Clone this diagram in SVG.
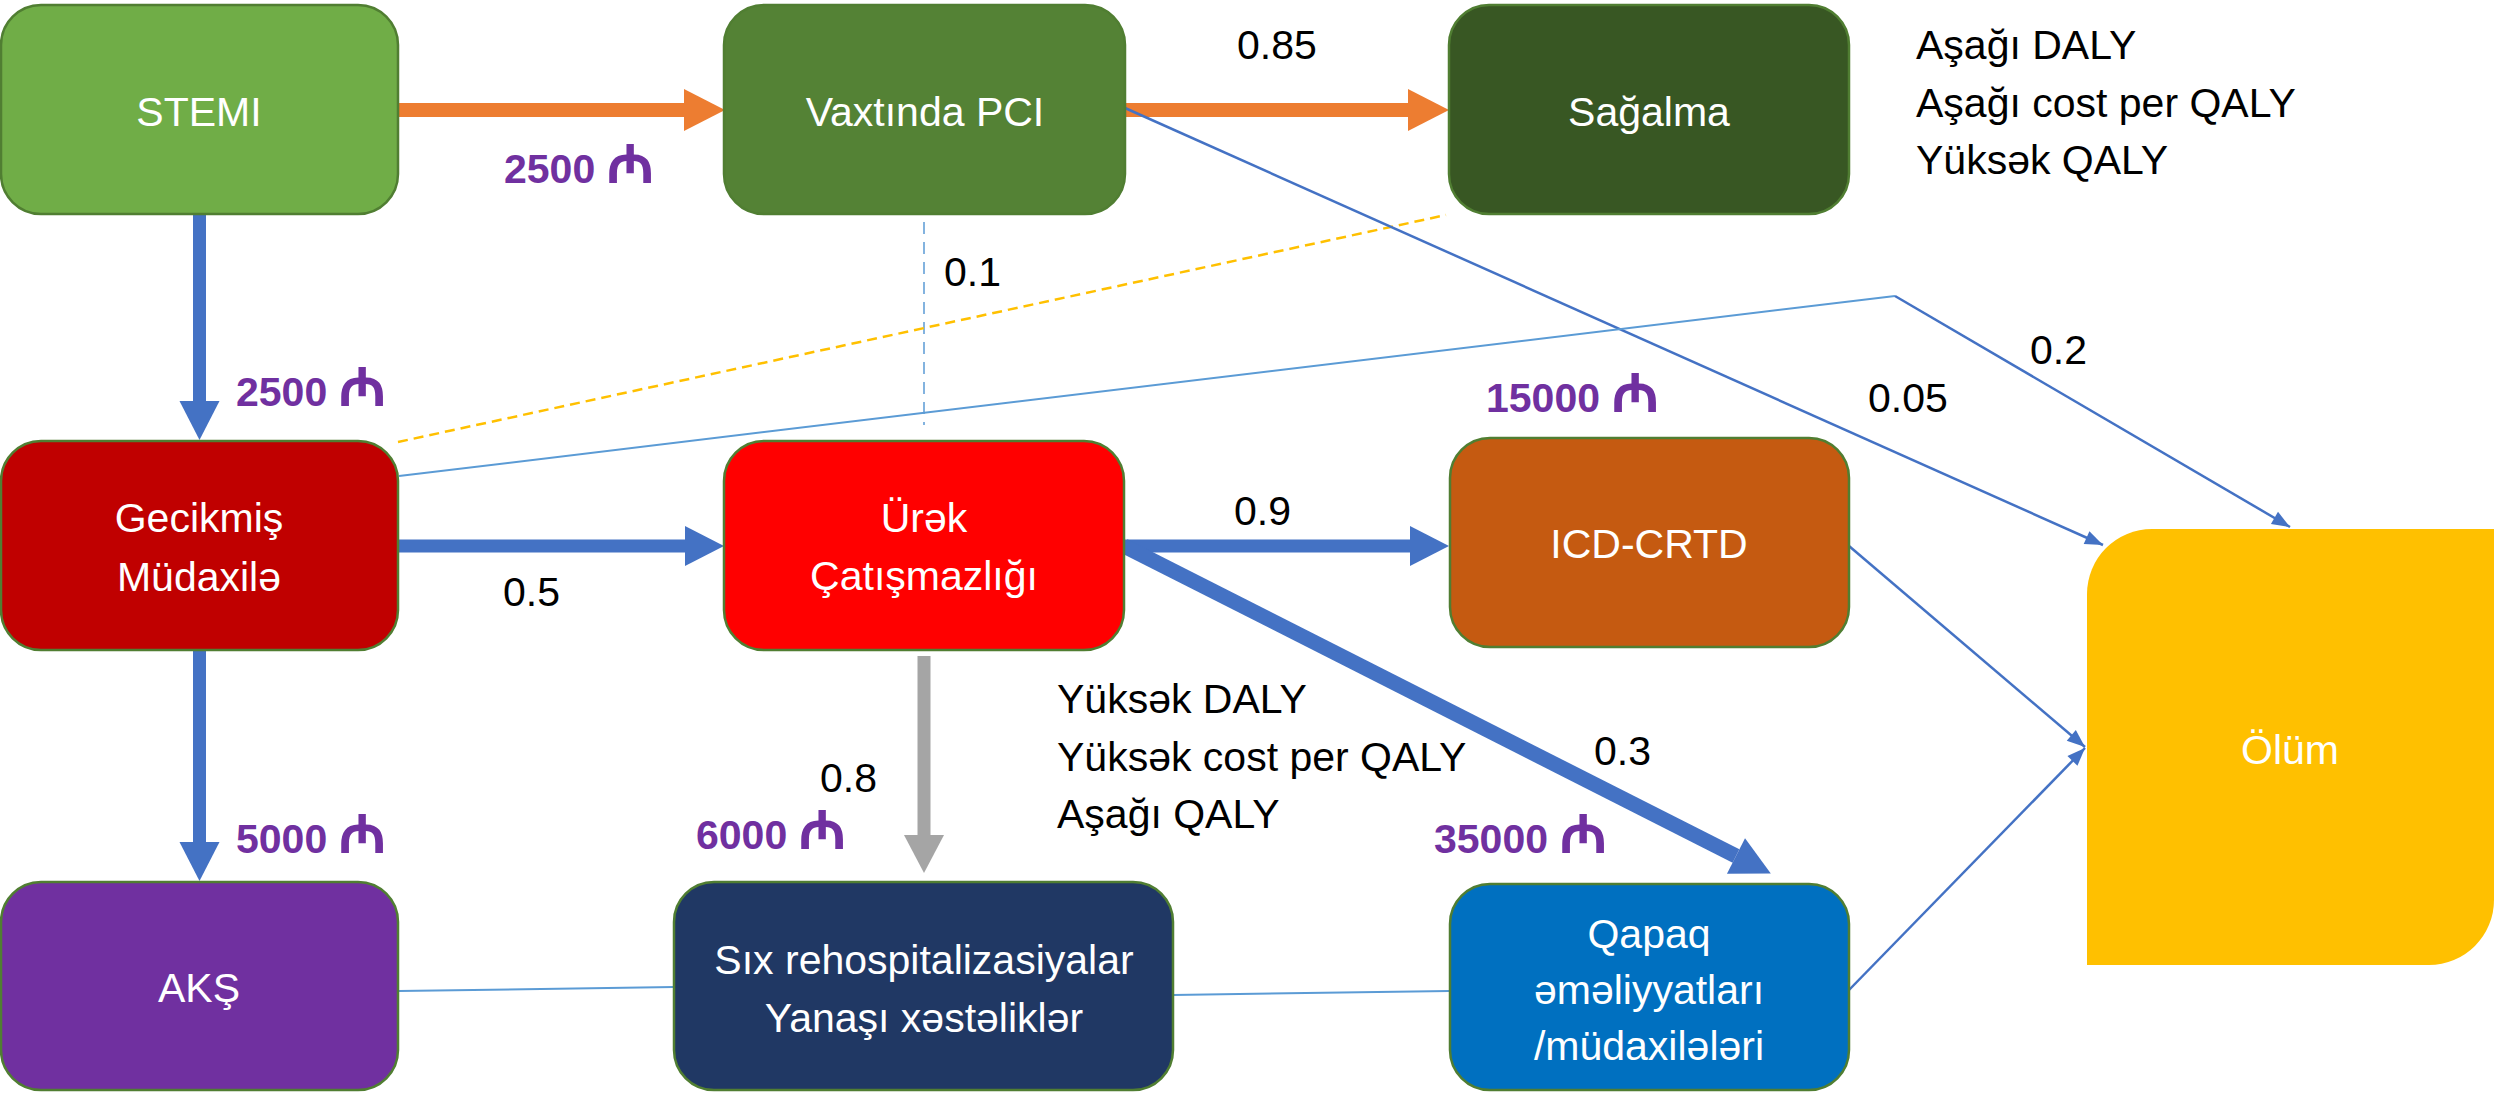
<svg xmlns="http://www.w3.org/2000/svg" width="2511" height="1094" viewBox="0 0 2511 1094">
<style>
.box{stroke:#507E32;stroke-width:2.5}
.nt{font-family:"Liberation Sans","Noto Sans","DejaVu Sans",sans-serif;font-size:41px;fill:#fff;text-anchor:middle}
.lb{font-family:"Liberation Sans","Noto Sans","DejaVu Sans",sans-serif;font-size:41px;fill:#000}
.cost{font-family:"Liberation Sans","Noto Sans","DejaVu Sans",sans-serif;font-size:41px;font-weight:bold;fill:#7030A0}
.m{font-size:54px;font-weight:bold}
.thin{fill:none;stroke:#4472C4;stroke-width:2.5}
.thinl{fill:none;stroke:#5B9BD5;stroke-width:2}
</style>
<defs>
<marker id="hO" markerUnits="userSpaceOnUse" markerWidth="42" markerHeight="42" refX="0" refY="21" orient="auto" overflow="visible"><path d="M0,0 L41,21 L0,42 Z" fill="#ED7D31"/></marker>
<marker id="hB" markerUnits="userSpaceOnUse" markerWidth="40" markerHeight="40" refX="0" refY="20" orient="auto" overflow="visible"><path d="M0,0 L39,20 L0,40 Z" fill="#4472C4"/></marker>
<marker id="hG" markerUnits="userSpaceOnUse" markerWidth="40" markerHeight="40" refX="0" refY="20" orient="auto" overflow="visible"><path d="M0,0 L38,20 L0,40 Z" fill="#A5A5A5"/></marker>
<marker id="hT" markerUnits="userSpaceOnUse" markerWidth="18" markerHeight="14" refX="18" refY="7" orient="auto" overflow="visible"><path d="M0,0 L18,7 L0,14 Z" fill="#4472C4"/></marker>
</defs>

<g id="connectors">
<line x1="399" y1="110" x2="684" y2="110" stroke="#ED7D31" stroke-width="14" marker-end="url(#hO)"/>
<line x1="1125" y1="110" x2="1408" y2="110" stroke="#ED7D31" stroke-width="14" marker-end="url(#hO)"/>
<line x1="199.5" y1="215" x2="199.5" y2="401" stroke="#4472C4" stroke-width="13" marker-end="url(#hB)"/>
<line x1="199.5" y1="651" x2="199.5" y2="842" stroke="#4472C4" stroke-width="13" marker-end="url(#hB)"/>
<line x1="399" y1="546" x2="685" y2="546" stroke="#4472C4" stroke-width="13" marker-end="url(#hB)"/>
<line x1="1124" y1="546" x2="1410" y2="546" stroke="#4472C4" stroke-width="13" marker-end="url(#hB)"/>
<line x1="1124" y1="546" x2="1736" y2="856" stroke="#4472C4" stroke-width="15" marker-end="url(#hB)"/>
<line x1="924" y1="656" x2="924" y2="835" stroke="#A5A5A5" stroke-width="13" marker-end="url(#hG)"/>
<line x1="924" y1="222" x2="924" y2="425" stroke="#5B9BD5" stroke-width="1.5" stroke-dasharray="12,8"/>
<line x1="398" y1="442" x2="1446" y2="215" stroke="#FFC000" stroke-width="2.5" stroke-dasharray="10,6"/>
<line class="thin" x1="1125" y1="108" x2="2103" y2="545" marker-end="url(#hT)"/>
<line class="thinl" x1="399" y1="476" x2="1895" y2="296"/>
<line class="thin" x1="1895" y1="296" x2="2290" y2="527" marker-end="url(#hT)"/>
<line class="thin" x1="1849" y1="546" x2="2085" y2="747" marker-end="url(#hT)"/>
<line class="thin" x1="1849" y1="990" x2="2085" y2="748" marker-end="url(#hT)"/>
<line class="thinl" x1="399" y1="991" x2="674" y2="987"/>
<line class="thinl" x1="1173" y1="995" x2="1449" y2="991"/>
</g>

<g id="stemi"><rect class="box" x="1" y="5" width="397" height="209" rx="40" fill="#70AD47"/><text class="nt" x="199" y="126">STEMI</text></g>
<g id="vaxtinda"><rect class="box" x="724" y="5" width="401" height="209" rx="40" fill="#548235"/><text class="nt" x="925" y="126">Vaxtında PCI</text></g>
<g id="sagalma"><rect class="box" x="1449" y="5" width="400" height="209" rx="40" fill="#385723"/><text class="nt" x="1649" y="126">Sağalma</text></g>
<g id="gecikmis"><rect class="box" x="1" y="441" width="397" height="209" rx="40" fill="#C00000"/><text class="nt" x="199" y="532">Gecikmiş</text><text class="nt" x="199" y="591">Müdaxilə</text></g>
<g id="urek"><rect class="box" x="724" y="441" width="400" height="209" rx="40" fill="#FF0000"/><text class="nt" x="924" y="532">Ürək</text><text class="nt" x="924" y="590">Çatışmazlığı</text></g>
<g id="icd"><rect class="box" x="1450" y="438" width="399" height="209" rx="40" fill="#C55A11"/><text class="nt" x="1649" y="558">ICD-CRTD</text></g>
<g id="aks"><rect class="box" x="1" y="882" width="397" height="208" rx="40" fill="#7030A0"/><text class="nt" x="199" y="1002">AKŞ</text></g>
<g id="six"><rect class="box" x="674" y="882" width="499" height="208" rx="40" fill="#203864"/><text class="nt" x="924" y="974">Sıx rehospitalizasiyalar</text><text class="nt" x="924" y="1032">Yanaşı xəstəliklər</text></g>
<g id="qapaq"><rect class="box" x="1450" y="884" width="399" height="206" rx="40" fill="#0070C0"/><text class="nt" x="1649" y="948">Qapaq</text><text class="nt" x="1649" y="1004">əməliyyatları</text><text class="nt" x="1649" y="1060">/müdaxilələri</text></g>
<g id="olum"><path d="M2152,529 H2494 V900 A65,65 0 0 1 2429,965 H2087 V594 A65,65 0 0 1 2152,529 Z" fill="#FFC000"/><text class="nt" x="2290" y="764">Ölüm</text></g>

<g id="labels">
<text class="lb" x="1237" y="59">0.85</text>
<text class="lb" x="944" y="286">0.1</text>
<text class="lb" x="2030" y="364">0.2</text>
<text class="lb" x="1868" y="412">0.05</text>
<text class="lb" x="503" y="606">0.5</text>
<text class="lb" x="1234" y="525">0.9</text>
<text class="lb" x="1594" y="765">0.3</text>
<text class="lb" x="820" y="792">0.8</text>
<text class="lb" x="1916" y="59">Aşağı DALY</text>
<text class="lb" x="1916" y="117">Aşağı cost per QALY</text>
<text class="lb" x="1916" y="174">Yüksək QALY</text>
<text class="lb" x="1057" y="713">Yüksək DALY</text>
<text class="lb" x="1057" y="771">Yüksək cost per QALY</text>
<text class="lb" x="1057" y="828">Aşağı QALY</text>
<text class="cost" x="504" y="183">2500 <tspan class="m">₼</tspan></text>
<text class="cost" x="236" y="406">2500 <tspan class="m">₼</tspan></text>
<text class="cost" x="1486" y="412">15000 <tspan class="m">₼</tspan></text>
<text class="cost" x="236" y="853">5000 <tspan class="m">₼</tspan></text>
<text class="cost" x="696" y="849">6000 <tspan class="m">₼</tspan></text>
<text class="cost" x="1434" y="853">35000 <tspan class="m">₼</tspan></text>
</g>
</svg>
